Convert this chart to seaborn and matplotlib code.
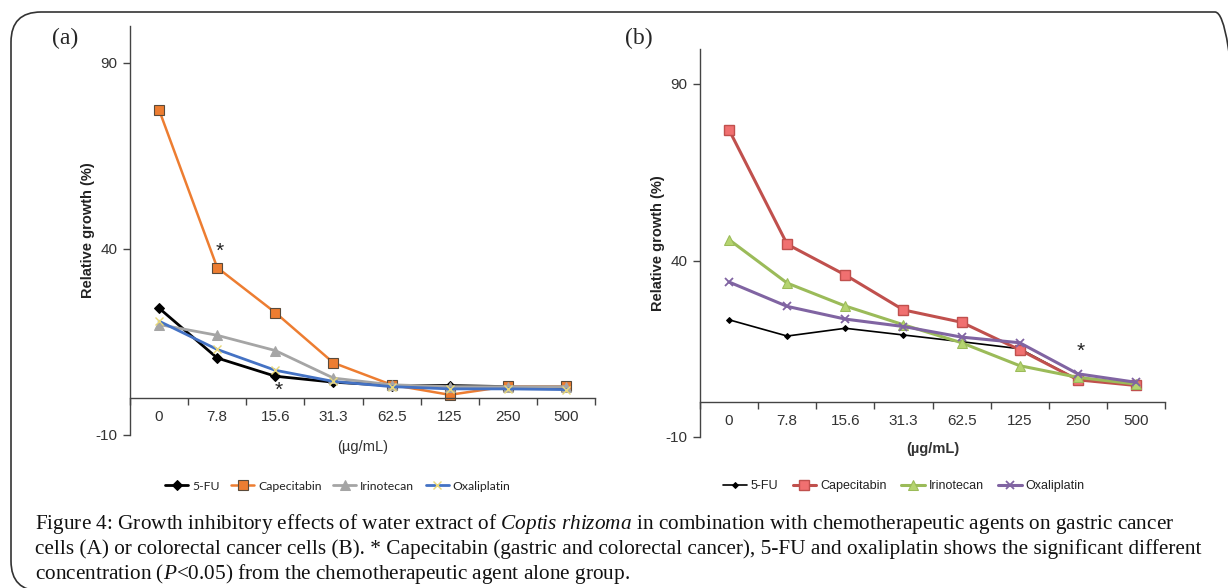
import numpy as np
import pandas as pd
import matplotlib
matplotlib.use('Agg')
import matplotlib.pyplot as plt
from matplotlib.patches import FancyBboxPatch
from matplotlib.transforms import IdentityTransform
import seaborn as sns

# concentrations (ug/mL) shown as categories
concs = ['0', '7.8', '15.6', '31.3', '62.5', '125', '250', '500']
drugs = ['5-FU', 'Capecitabin', 'Irinotecan', 'Oxaliplatin']

# (a) gastric cancer cells, relative growth (%)
gastric_5fu = [24.1, 10.7, 5.8, 4.2, 3.3, 3.3, 3.0, 2.8]
gastric_cape = [77.4, 35.0, 22.9, 9.4, 3.5, 0.8, 3.1, 3.1]
gastric_irino = [19.7, 16.8, 12.7, 5.3, 3.5, 3.0, 3.0, 3.0]
gastric_oxali = [20.6, 13.0, 7.4, 4.4, 3.0, 2.4, 2.4, 2.2]

# (b) colorectal cancer cells, relative growth (%)
colo_5fu = [23.2, 18.6, 20.8, 18.9, 17.0, 15.0, 6.2, 4.7]
colo_cape = [77.0, 44.6, 35.9, 26.0, 22.5, 14.7, 6.2, 4.6]
colo_irino = [45.9, 33.6, 27.1, 21.8, 16.7, 10.2, 6.9, 5.0]
colo_oxali = [33.9, 27.0, 23.4, 21.3, 18.3, 16.7, 7.9, 5.5]

# significance stars: (category, y)
stars_a = [('7.8', 39.5), ('15.6', 2.0)]
stars_b = [('250', 14.2)]

caption_lines = [
    r'Figure 4: Growth inhibitory effects of water extract of $\mathit{Coptis\ rhizoma}$ in combination with chemotherapeutic agents on gastric cancer',
    'cells (A) or colorectal cancer cells (B). * Capecitabin (gastric and colorectal cancer), 5-FU and oxaliplatin shows the significant different',
    r'concentration ($\mathit{P}$<0.05) from the chemotherapeutic agent alone group.',
]


def make_frame(series):
    rows = []
    for drug, vals in zip(drugs, series):
        for c, v in zip(concs, vals):
            rows.append({'conc': c, 'growth': v, 'drug': drug})
    return pd.DataFrame(rows)


df_a = make_frame([gastric_5fu, gastric_cape, gastric_irino, gastric_oxali])
df_b = make_frame([colo_5fu, colo_cape, colo_irino, colo_oxali])

style_a = {
    '5-FU': dict(color='black', marker='D', markersize=5, markerfacecolor='black',
                 markeredgecolor='black', linewidth=2.0),
    'Capecitabin': dict(color='#ED7D31', marker='s', markersize=7, markerfacecolor='#ED7D31',
                        markeredgecolor='#5a4a3a', markeredgewidth=0.8, linewidth=1.8),
    'Irinotecan': dict(color='#A5A5A5', marker='^', markersize=7, markerfacecolor='#A5A5A5',
                       markeredgecolor='#A5A5A5', linewidth=2.0),
    'Oxaliplatin': dict(color='#4472C4', marker='x', markersize=6, markeredgecolor='#E8D87A',
                        markeredgewidth=1.0, linewidth=2.0),
}
style_b = {
    '5-FU': dict(color='black', marker='D', markersize=3, markerfacecolor='black',
                 markeredgecolor='black', linewidth=1.2),
    'Capecitabin': dict(color='#C0504D', marker='s', markersize=7, markerfacecolor='#F07070',
                        markeredgecolor='#C0504D', markeredgewidth=1.0, linewidth=2.2),
    'Irinotecan': dict(color='#9BBB59', marker='^', markersize=7, markerfacecolor='#B5D470',
                       markeredgecolor='#9BBB59', linewidth=2.2),
    'Oxaliplatin': dict(color='#8064A2', marker='x', markersize=6, markeredgecolor='#8064A2',
                        markeredgewidth=1.3, linewidth=2.2),
}

sns.set_style('ticks')
plt.rcParams['font.family'] = ['Liberation Sans', 'DejaVu Sans']
plt.rcParams['axes.unicode_minus'] = False
plt.rcParams['mathtext.fontset'] = 'custom'
plt.rcParams['mathtext.rm'] = 'Liberation Serif'
plt.rcParams['mathtext.it'] = 'Liberation Serif:italic'

fig = plt.figure(figsize=(12.28, 5.88), dpi=100)
W, H = 1228, 588


def px_axes(left, right, top, bottom):
    return fig.add_axes([left / W, 1 - bottom / H, (right - left) / W, (bottom - top) / H])


ax_a = px_axes(130, 595, 25.8, 435)
ax_b = px_axes(700, 1165, 48.7, 437)


def draw_panel(ax, df, styles, stars, xlabel_bold, legend_x, legend_font, legend_size, colspace):
    for drug in drugs:
        sub = df[df['drug'] == drug]
        sns.lineplot(data=sub, x='conc', y='growth', ax=ax, sort=False,
                     label=drug, **styles[drug])
    ax.set_ylim(-10, 100)
    ax.set_xlim(-0.5, len(concs) - 0.5)
    ax.set_yticks([-10, 40, 90])
    ax.set_xticks(np.arange(len(concs) + 1) - 0.5)
    ax.set_xticklabels([])
    ax.set_xticks(np.arange(len(concs)), minor=True)
    ax.set_xticklabels(concs, minor=True)
    ax.tick_params(axis='x', which='major', length=5, width=1, color='#444444')
    ax.tick_params(axis='x', which='minor', length=0, pad=9, labelsize=11, labelcolor='#333333')
    ax.tick_params(axis='y', length=5, width=1, color='#444444', pad=4,
                   labelsize=11, labelcolor='#333333')
    sns.despine(ax=ax)
    ax.spines['bottom'].set_position(('data', 0))
    for s in ['left', 'bottom']:
        ax.spines[s].set_color('#444444')
        ax.spines[s].set_linewidth(1.0)
    ax.set_ylabel('Relative growth (%)', fontsize=10.5, fontweight='bold', color='#222222')
    ax.yaxis.set_label_coords(-0.075, 0.5)
    ax.set_xlabel('(\u00b5g/mL)', fontsize=10.5, color='#333333',
                  fontweight='bold' if xlabel_bold else 'normal')
    ax.xaxis.set_label_coords(0.5, -0.012)
    for c, y in stars:
        ax.text(concs.index(c) + 0.05, y, '*', ha='center', va='center', fontsize=15,
                color='#222222')
    leg = ax.legend(loc='center left', bbox_to_anchor=(legend_x / W, 1 - 486 / H),
                    bbox_transform=fig.transFigure, ncol=4, frameon=False,
                    handlelength=1.9, handletextpad=0.3, columnspacing=colspace,
                    borderpad=0, borderaxespad=0,
                    prop={'family': legend_font, 'size': legend_size})
    for t in leg.get_texts():
        t.set_color('#222222')


draw_panel(ax_a, df_a, style_a, stars_a, False, 165, 'Lato', 8.8, 0.95)
draw_panel(ax_b, df_b, style_b, stars_b, True, 723, 'Liberation Sans', 9, 1.15)

fig.text(52 / W, 1 - 38 / H, '(a)', family='Liberation Serif', fontsize=17, va='center')
fig.text(625 / W, 1 - 38 / H, '(b)', family='Liberation Serif', fontsize=17, va='center')

for i, line in enumerate(caption_lines):
    fig.text(35 / W, 1 - (524 + 25 * i) / H, line, family='Liberation Serif',
             fontsize=15.3, va='center', color='#111111')

border = FancyBboxPatch((11, -3), 1234, 579, boxstyle='round,pad=0,rounding_size=30',
                        transform=IdentityTransform(), facecolor='none',
                        edgecolor='#333333', linewidth=1.2)
fig.add_artist(border)

fig.savefig('out.png', dpi=100)
